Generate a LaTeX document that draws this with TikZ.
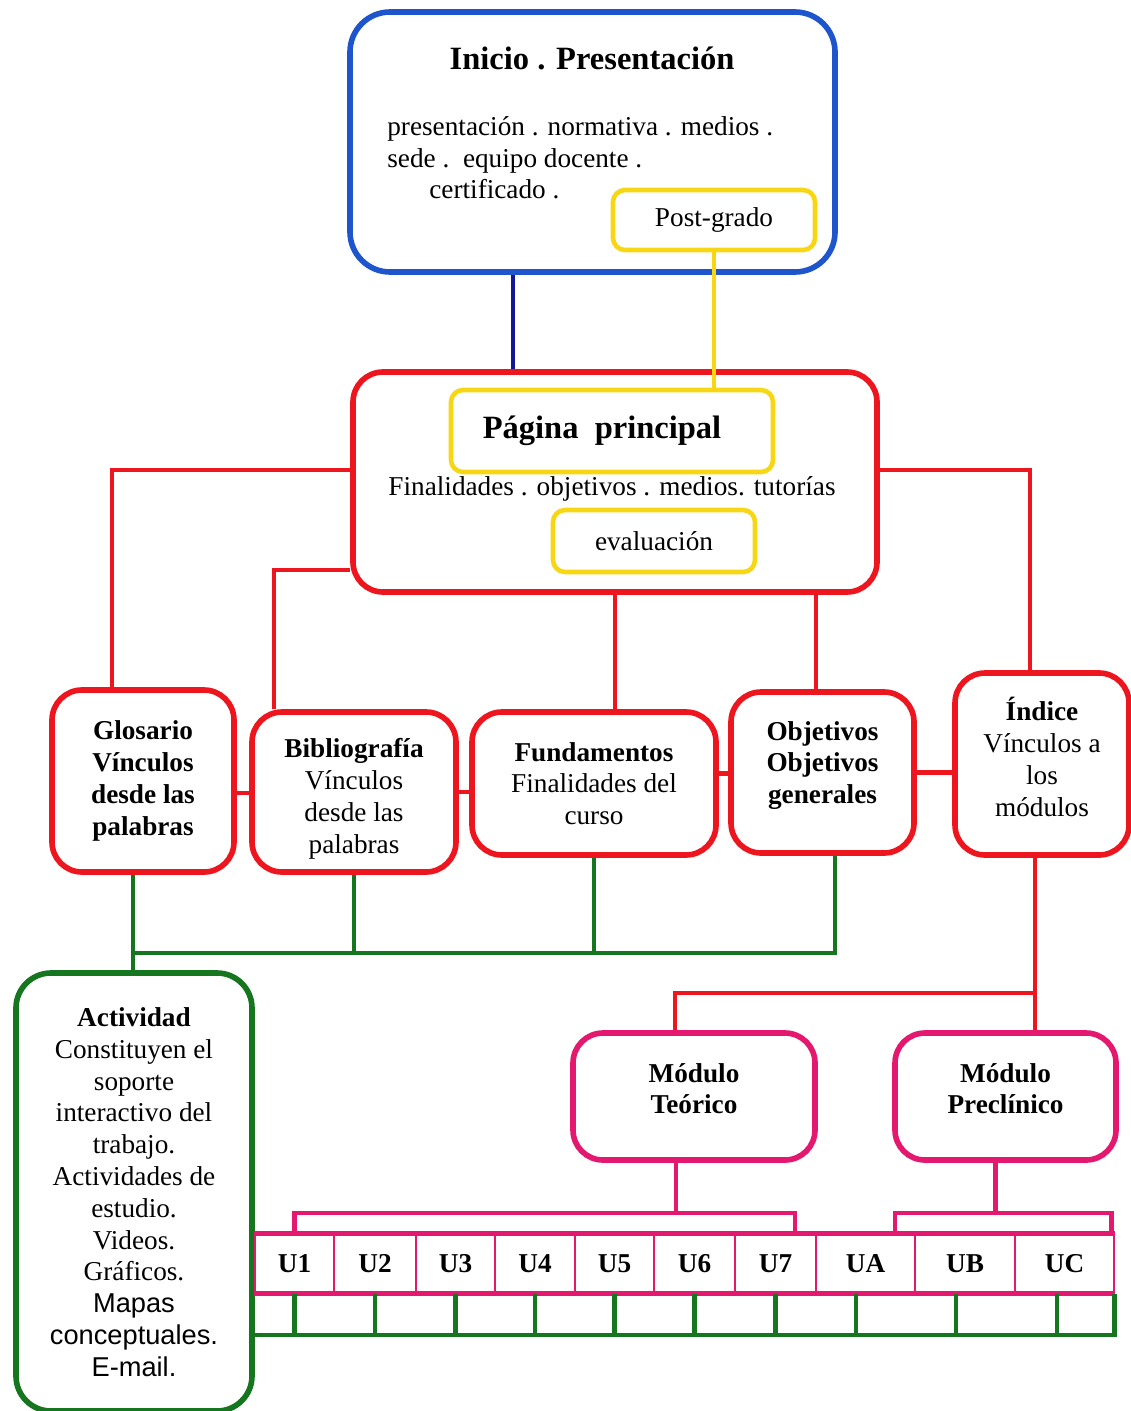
\documentclass[tikz,border=0pt]{standalone}
\usepackage{fontspec}
\setmainfont{Liberation Serif}
\newfontfamily\sansfam{Liberation Sans}
\usepackage{xcolor}
\definecolor{iniblue}{RGB}{31,85,204}
\definecolor{navyln}{RGB}{16,24,150}
\definecolor{goldy}{RGB}{247,214,20}
\definecolor{redb}{RGB}{238,22,30}
\definecolor{greenb}{RGB}{22,118,32}
\definecolor{pinkb}{RGB}{228,24,110}
\newcommand{\bodyfont}{\fontsize{15.5}{18.1}\selectfont}
\tikzset{
  cbox/.style    ={draw, rounded corners=6mm, line width=3.2pt, align=center, inner sep=2pt, fill=white, font=\bodyfont},
  bluebox/.style ={cbox, draw=iniblue, rounded corners=8mm},
  redbox/.style  ={cbox, draw=redb},
  greenbox/.style={cbox, draw=greenb, rounded corners=7mm},
  pinkbox/.style ={cbox, draw=pinkb},
  yelbox/.style  ={draw=goldy, rounded corners=2.4mm, line width=2.6pt, align=center, fill=white, font=\bodyfont},
  ucell/.style   ={draw=pinkb, line width=1pt, minimum height=11.8mm, inner sep=0pt, font=\bodyfont\bfseries},
  txt/.style     ={font=\bodyfont},
  ttl/.style     ={font=\fontsize{18.5}{22}\selectfont\bfseries},
  redc/.style    ={draw=redb, line width=2.8pt},
  greenc/.style  ={draw=greenb, line width=2.8pt},
  pinkc/.style   ={draw=pinkb, line width=2.8pt},
  bluec/.style   ={draw=navyln, line width=2.6pt},
  yelc/.style    ={draw=goldy, line width=2pt},
}
\begin{document}
\begin{tikzpicture}[x=0.2mm, y=-0.2mm]
  \useasboundingbox (0,0) rectangle (1130,1411);
  \node[bluebox, minimum width=97mm, minimum height=52mm] (inicio) at (592.5,142) {};
  \node[ttl] (initl) at (592,58) {Inicio . Presentación};
  \node[txt, anchor=north west, align=left, inner sep=0pt] (initx) at (387,116) {presentación . normativa . medios .\\ sede .\ \ equipo docente .\\ \hspace*{8.4mm}certificado .};
  \node[yelbox, minimum width=40.4mm, minimum height=12mm] (postg) at (714,220) {Post-grado};
  \node[redbox, minimum width=104.8mm, minimum height=44mm] (pagina) at (615,482) {};
  \node[yelbox, minimum width=64.4mm, minimum height=16.4mm, font=\fontsize{18.5}{22}\selectfont\bfseries] (pprin) at (612,431) {Página\ \ principal\hspace*{4mm}};
  \node[txt] (pfin) at (612,489) {Finalidades . objetivos . medios. tutorías};
  \node[yelbox, minimum width=40.4mm, minimum height=12.4mm] (evalu) at (654,541) {evaluación};
  \node[redbox, minimum width=36.4mm, minimum height=36.4mm, font=\bodyfont\bfseries] (glos) at (143,781) {Glosario\\ Vínculos\\ desde las\\ palabras};
  \node[redbox, minimum width=40.8mm, minimum height=32mm] (biblio) at (354,792) {\rule{0pt}{6.6mm}\textbf{Bibliografía}\\ Vínculos\\ desde las\\ palabras};
  \node[redbox, minimum width=48.8mm, minimum height=28.6mm] (fund) at (594,783.5) {\textbf{Fundamentos}\\ Finalidades del\\ curso};
  \node[redbox, minimum width=36.6mm, minimum height=32.2mm, text depth=4mm, font=\bodyfont\bfseries] (objt) at (822.5,772.5) {Objetivos\\ Objetivos\\ generales};
  \node[redbox, minimum width=34.8mm, minimum height=36.4mm, text depth=2.8mm] (indice) at (1042,764) {\textbf{Índice}\\ Vínculos a\\ los\\ módulos};
  \node[pinkbox, minimum width=48.4mm, minimum height=25.4mm, text depth=3.2mm, font=\bodyfont\bfseries] (teor) at (694,1096.5) {Módulo\\ Teórico};
  \node[pinkbox, minimum width=44.2mm, minimum height=25.4mm, text depth=3.2mm, font=\bodyfont\bfseries] (preclin) at (1005.5,1096.5) {Módulo\\ Preclínico};
  \node[greenbox, minimum width=47.2mm, minimum height=87.6mm] (activ) at (134,1192) {\textbf{Actividad}\\ Constituyen el\\ soporte\\ interactivo del\\ trabajo.\\ Actividades de\\ estudio.\\ Videos.\\ Gráficos.\\ {\sansfam Mapas}\\ {\sansfam conceptuales.}\\ {\sansfam E-mail.}};
  \foreach \nm/\lab/\xa/\xb in {u1/U1/255/334, u2/U2/334/416, u3/U3/416/495, u4/U4/495/575, u5/U5/575/654, u6/U6/654/735, u7/U7/735/816, ua/UA/816/915, ub/UB/915/1015, uc/UC/1015/1114}{
    \pgfmathsetmacro\cw{(\xb-\xa)*0.2}
    \node[ucell, minimum width=\cw mm] (\nm) at ({(\xa+\xb)/2},1263.5) {\lab};
  }
  \draw[pinkc] (u1.north west) -- (uc.north east);
  \draw[pinkc] (u1.south west) -- (uc.south east);
  \coordinate (gbus) at (0,953);
  \coordinate (rbus) at (0,993);
  \coordinate (pbus) at (0,1213);
  \coordinate (gbot) at (0,1335);
  \draw[bluec] ([xshift=-15.9mm]inicio.south) -- ([xshift=-15.9mm]inicio.south |- pagina.north);
  \draw[yelc] (postg.south) -- (postg.south |- pprin.north);
  \draw[redc] ([yshift=2.4mm]pagina.west) -| ([xshift=-6.2mm]glos.north);
  \draw[redc] ([yshift=-17.6mm]pagina.west) -| ([xshift=-16mm]biblio.north);
  \draw[redc] ([yshift=2.4mm]pagina.east) -| ([xshift=-2.4mm]indice.north);
  \draw[redc] (pagina.south) -- (pagina.south |- fund.north);
  \draw[redc] ([xshift=-1.3mm]objt.north |- pagina.south) -- ([xshift=-1.3mm]objt.north);
  \draw[redc] ([yshift=-2.4mm]glos.east) -- ([yshift=-2.4mm]glos.east -| biblio.west);
  \draw[redc] (biblio.east) -- (biblio.east -| fund.west);
  \draw[redc] ([yshift=2mm]fund.east) -- ([yshift=2mm]fund.east -| objt.west);
  \draw[redc] (objt.east) -- (objt.east -| indice.west);
  \draw[greenc] ([xshift=-2mm]glos.south) -- ([xshift=-2mm]glos.south |- activ.north);
  \draw[greenc] ([xshift=-2mm]glos.south |- gbus) -- ([xshift=2.5mm]objt.south |- gbus) -- ([xshift=2.5mm]objt.south);
  \draw[greenc] (biblio.south) -- (biblio.south |- gbus);
  \draw[greenc] (fund.south) -- (fund.south |- gbus);
  \draw[redc] ([xshift=-1.4mm]indice.south) -- ([xshift=-1.4mm]indice.south |- preclin.north);
  \draw[redc] ([xshift=-1.4mm]indice.south |- rbus) -| ([xshift=-3.8mm]teor.north);
  \draw[pinkc] ([xshift=-3.6mm]teor.south) -- ([xshift=-3.6mm]teor.south |- pbus);
  \draw[pinkc] (u1.north) -- (u1.north |- pbus) -- ([xshift=3.9mm]u7.north |- pbus) -- ([xshift=3.9mm]u7.north);
  \draw[pinkc] ([xshift=-2mm]preclin.south) -- ([xshift=-2mm]preclin.south |- pbus);
  \draw[pinkc] ([xshift=5.9mm]ua.north) -- ([xshift=5.9mm]ua.north |- pbus) -- ([xshift=-0.6mm]uc.north east |- pbus) -- ([xshift=-0.6mm]uc.north east);
  \foreach \nm/\dx in {u1/0, u2/0, u3/0, u4/0, u5/0, u6/0, u7/0, ua/-1.9, ub/-1.8, uc/-1.5}
    \draw[greenc] ([xshift=\dx mm]\nm.south) -- ([xshift=\dx mm]\nm.south |- gbot);
  \draw[greenc] (activ.east |- gbot) -| (uc.south east);
\end{tikzpicture}
\end{document}
